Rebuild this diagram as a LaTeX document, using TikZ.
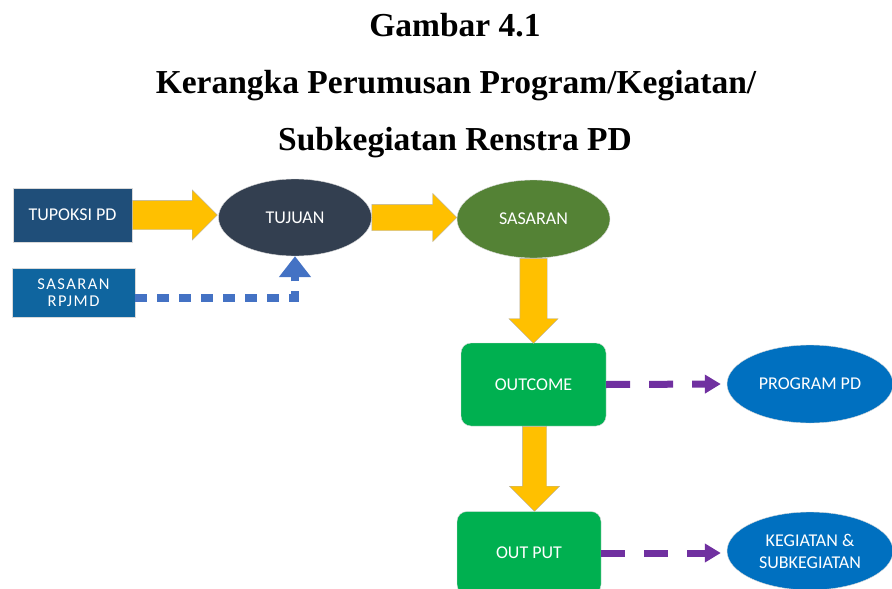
\documentclass[tikz,border=0pt]{standalone}
\usepackage{fontspec}
\setmainfont{Liberation Serif}
\newfontfamily\boxfont{Carlito}
\usepackage{tikz}
\usetikzlibrary{shapes.geometric,shapes.arrows,arrows.meta,calc}

\definecolor{tupoksiblue}{HTML}{1F4E79}
\definecolor{rpjmdblue}{HTML}{0F659F}
\definecolor{tujuanslate}{HTML}{333F50}
\definecolor{sasarangreen}{HTML}{548235}
\definecolor{outgreen}{HTML}{00B050}
\definecolor{progblue}{HTML}{0070C0}
\definecolor{arrowyellow}{HTML}{FFC000}
\definecolor{dashblue}{HTML}{4472C4}
\definecolor{dashpurple}{HTML}{7030A0}

\begin{document}
\begin{tikzpicture}[x=1pt,y=-1pt,
    boxtext/.style={text=white,font=\boxfont\fontsize{18}{22}\selectfont,align=center},
    sqbox/.style={boxtext,rectangle,draw=white!70!gray,thin,inner sep=0pt},
    rndbox/.style={boxtext,rectangle,rounded corners=10pt,fill=outgreen,draw=white!70!gray,thin,
        minimum width=145pt,minimum height=83pt,inner sep=0pt},
    oval/.style={boxtext,ellipse,draw=white!70!gray,thin,inner sep=0pt,
        minimum width=153pt,minimum height=77pt},
    fatarrow/.style={single arrow,fill=arrowyellow,draw=gray!60,thin,anchor=tail,
        single arrow tip angle=90,minimum height=85pt},
    titletext/.style={anchor=base,font=\bfseries\fontsize{33.5}{36}\selectfont},
    bluedash/.style={dashblue,line width=8pt,dash pattern=on 12pt off 10pt,
        -{Triangle[width=31pt,length=21pt]}},
    purpledash/.style={dashpurple,line width=7pt,dash pattern=on 24pt off 19pt,
        -{Triangle[width=18pt,length=16pt]},shorten >=6pt}]
    \useasboundingbox (0,0) rectangle (892,589);

    % title
    \node[titletext] (t1) at (455,36) {Gambar 4.1};
    \node[titletext] (t2) at (456,93) {Kerangka Perumusan Program/Kegiatan/};
    \node[titletext] (t3) at (455,150) {Subkegiatan Renstra PD};

    % nodes
    \node[sqbox,fill=tupoksiblue,minimum width=119pt,minimum height=54pt] (tupoksi) at (72.5,215) {TUPOKSI PD};
    \node[sqbox,fill=rpjmdblue,minimum width=123pt,minimum height=49pt,
        font=\boxfont\fontsize{16.5}{16.5}\selectfont\addfontfeatures{LetterSpace=9}] (rpjmd) at (73.5,292.5) {SASARAN\\RPJMD};
    \node[oval,fill=tujuanslate] (tujuan) at (295,217.5) {TUJUAN};
    \node[oval,fill=sasarangreen,minimum height=78pt] (sasaran) at (533.5,219) {SASARAN};
    \node[rndbox] (outcome) at (533.5,384.5) {OUTCOME};
    \node[rndbox,minimum width=144pt] (output) at (529,553) {OUT PUT};
    \node[oval,fill=progblue,minimum width=166pt,minimum height=78pt] (program) at (810,384) {PROGRAM PD};
    \node[oval,fill=progblue,minimum width=166pt,minimum height=78pt] (kegiatan) at (810,551) {KEGIATAN \&\\SUBKEGIATAN};

    % yellow block arrows
    \node[fatarrow,inner sep=14.5pt,single arrow head extend=10.5pt] (a1) at (tupoksi.east) {};
    \node[fatarrow,inner sep=13pt,single arrow head extend=11pt] (a2) at (tujuan.east) {};
    \node[fatarrow,inner sep=13.5pt,single arrow head extend=11pt,shape border rotate=270] (a3) at (sasaran.south) {};
    \node[fatarrow,inner sep=12pt,single arrow head extend=13pt,shape border rotate=270] (a4) at ([xshift=1pt]outcome.south) {};

    % dashed links
    \draw[bluedash] ([yshift=-5pt]rpjmd.east) -- ([yshift=-5pt]tujuan.south |- rpjmd.east) -- (tujuan.south);
    \draw[purpledash] (outcome.east) -- (program.west);
    \draw[purpledash] (output.east) -- (output.east -| kegiatan.west);
\end{tikzpicture}
\end{document}
